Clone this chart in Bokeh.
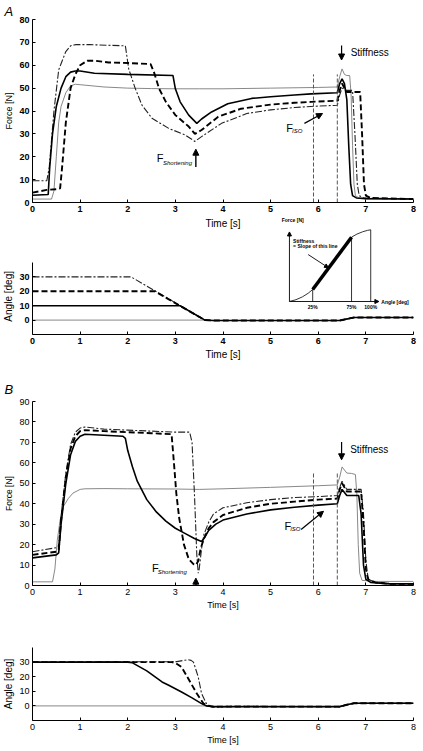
from bokeh.plotting import figure
from bokeh.layouts import column
from bokeh.models import Range1d, FixedTicker, Arrow, NormalHead, Label
from bokeh.embed import file_html
from bokeh.resources import INLINE

FONT = "Liberation Sans"

# ---------------- data: panel A, force ----------------
tA_iso = [0, 0.40, 0.45, 0.50, 0.55, 0.60, 0.70, 0.80, 0.90, 1.0, 1.5, 2.0, 2.5, 3.0, 3.5, 4.0, 5.0, 6.0, 6.40, 6.45, 6.50, 6.55, 6.60, 6.66, 6.69, 6.72, 6.75, 6.78, 6.85, 7.0, 8.0]
fA_iso = [1.5, 1.5, 5, 20, 35, 42, 48, 51, 51.7, 51.5, 50.5, 50, 49.8, 49.7, 49.7, 49.7, 50, 50.3, 50.5, 55, 58.4, 56, 55.5, 55.5, 47, 25, 8, 3, 2, 1.6, 1.5]

tA_10 = [0, 0.33, 0.36, 0.42, 0.5, 0.6, 0.7, 0.8, 0.9, 1.0, 1.3, 2.0, 2.95, 3.0, 3.1, 3.28, 3.45, 3.55, 3.76, 4.1, 4.6, 5.0, 5.5, 5.85, 6.4, 6.45, 6.5, 6.55, 6.6, 6.64, 6.68, 6.72, 6.8, 7.0, 8.0]
fA_10 = [3.2, 3.5, 15, 30, 42, 50, 55, 57, 57.5, 57.5, 56.5, 56, 55.5, 49.7, 44, 38.2, 34.6, 36.5, 39.6, 43.2, 45.5, 46.2, 47, 47.5, 48, 52, 54, 52, 45, 25, 8, 3, 2, 1.7, 1.5]

tA_20 = [0, 0.3, 0.5, 0.58, 0.62, 0.7, 0.8, 0.9, 1.0, 1.15, 1.3, 1.6, 2.0, 2.48, 2.55, 2.66, 2.8, 3.0, 3.28, 3.41, 3.55, 3.9, 4.38, 5.0, 5.5, 5.85, 6.4, 6.45, 6.5, 6.55, 6.6, 6.88, 6.92, 6.96, 7.0, 7.1, 8.0]
fA_20 = [4.3, 5.5, 5.8, 6.2, 15, 35, 50, 56, 60, 62, 62, 61.2, 61, 60.5, 57, 49.7, 44, 38.2, 33.2, 30, 31.7, 37.5, 41, 42.8, 43.6, 44, 44.5, 49, 52, 50, 48.3, 48.3, 30, 8, 3, 2, 1.5]

tA_30 = [0, 0.3, 0.35, 0.45, 0.55, 0.7, 0.8, 0.9, 1.2, 1.95, 2.02, 2.16, 2.30, 2.51, 2.86, 3.2, 3.41, 3.55, 3.97, 4.5, 5.0, 5.5, 5.85, 6.4, 6.45, 6.5, 6.55, 6.6, 6.72, 6.77, 6.82, 6.86, 6.95, 8.0]
fA_30 = [9.5, 9.5, 15, 40, 58, 66, 68.5, 69, 69, 68.5, 58.4, 49.7, 42.5, 36.8, 32.4, 29.6, 26.7, 28.8, 34.6, 38.9, 40.5, 41.5, 42, 42.5, 47, 50, 49.5, 49, 49, 30, 8, 3, 2, 1.5]

# ---------------- data: panel A, angle ----------------
tA_a0 = [0, 3.6, 3.8, 6.45, 6.6, 6.75, 8]
aA_a0 = [0, 0, -0.3, -0.3, 0.8, 1.8, 1.8]
tA_a10 = [0, 3.1, 3.62, 3.8, 6.45, 6.6, 6.75, 8]
aA_a10 = [10, 10, 0, -0.3, -0.3, 0.8, 1.8, 1.8]
tA_a20 = [0, 2.57, 3.62, 3.8, 6.45, 6.6, 6.75, 8]
aA_a20 = [20, 20, 0, -0.3, -0.3, 0.8, 1.8, 1.8]
tA_a30 = [0, 2.07, 3.62, 3.8, 6.45, 6.6, 6.75, 8]
aA_a30 = [30, 30, 0, -0.3, -0.3, 0.8, 1.8, 1.8]

# ---------------- data: panel B, force ----------------
tB_iso = [0, 0.42, 0.47, 0.52, 0.58, 0.65, 0.75, 0.85, 1.0, 1.1, 1.5, 2.0, 3.0, 3.5, 4.0, 5.0, 6.0, 6.4, 6.45, 6.5, 6.55, 6.6, 6.7, 6.78, 6.81, 6.84, 6.87, 6.92, 7.2, 8.0]
fB_iso = [1.8, 1.8, 8, 22, 32, 38.7, 42.5, 45.2, 47, 47.3, 47.4, 47.3, 47.2, 47, 47.3, 48, 48.8, 49.2, 53, 58, 56.5, 55, 54.8, 54.3, 45, 20, 6, 2.5, 2, 2]

tB_10 = [0, 0.5, 0.55, 0.6, 0.7, 0.8, 0.9, 1.0, 1.1, 1.5, 1.9, 1.95, 2.0, 2.1, 2.2, 2.4, 2.6, 2.8, 3.0, 3.2, 3.4, 3.5, 3.55, 3.6, 3.7, 3.85, 4.0, 4.5, 5.0, 5.5, 6.0, 6.4, 6.45, 6.5, 6.55, 6.6, 6.85, 6.9, 6.95, 7.0, 7.1, 7.5, 8.0]
fB_10 = [13.5, 15, 16, 30, 50, 64, 70.5, 73, 74, 73.5, 73, 72, 66, 58, 51, 42, 36, 31.5, 28, 25.5, 23, 22, 21.5, 23, 27, 30, 32, 35, 37, 38.3, 39.3, 40, 44, 47, 45.5, 44, 44, 35, 10, 3, 1.5, 0.8, 0.8]

tB_20 = [0, 0.5, 0.55, 0.6, 0.7, 0.8, 0.9, 1.0, 1.1, 1.5, 2.0, 2.5, 2.92, 2.97, 3.02, 3.08, 3.18, 3.28, 3.38, 3.43, 3.48, 3.53, 3.6, 3.7, 3.8, 4.0, 4.5, 5.0, 5.5, 6.0, 6.4, 6.45, 6.5, 6.55, 6.6, 6.9, 6.95, 7.0, 7.05, 7.2, 7.5, 8.0]
fB_20 = [15, 16.5, 17.5, 32, 53, 67, 73, 75.5, 76, 75.5, 75, 74.5, 74, 60, 45, 33, 20, 13, 10.5, 10, 12, 18, 23, 28, 31, 34.5, 38, 40, 41, 42, 42.5, 47, 50, 48, 46, 46, 30, 8, 3, 1.5, 0.8, 0.8]

tB_30 = [0, 0.5, 0.55, 0.6, 0.7, 0.8, 0.9, 1.0, 1.1, 1.5, 2.0, 2.5, 3.0, 3.3, 3.35, 3.4, 3.45, 3.48, 3.5, 3.55, 3.6, 3.7, 3.8, 4.0, 4.5, 5.0, 5.5, 6.0, 6.4, 6.45, 6.5, 6.55, 6.6, 6.9, 6.95, 7.0, 7.05, 7.2, 7.5, 8.0]
fB_30 = [16.5, 18.5, 19.5, 34, 55, 69, 75, 77, 77.5, 76.5, 76, 75.5, 75, 75, 70, 45, 15, 6, 8, 18, 25, 31, 35, 38, 40.5, 42, 43, 43.5, 44, 48, 51, 49, 47, 47, 35, 12, 3, 1.5, 1, 1]

# ---------------- data: panel B, angle ----------------
tB_a0 = [0, 3.6, 3.8, 6.45, 6.6, 6.75, 8]
aB_a0 = [0, 0, -0.5, -0.5, 0.8, 1.8, 1.8]
tB_a10 = [0, 2.0, 2.1, 2.4, 2.72, 2.86, 3.13, 3.35, 3.55, 3.65, 3.8, 6.45, 6.6, 6.75, 8]
aB_a10 = [30, 30, 29.5, 24, 16.4, 14.1, 9.5, 5.5, 1.6, 0, -0.5, -0.5, 0.8, 1.8, 1.8]
tB_a20 = [0, 2.92, 3.0, 3.13, 3.27, 3.45, 3.59, 3.69, 3.8, 6.45, 6.6, 6.75, 8]
aB_a20 = [30, 30, 29.5, 26.6, 18.7, 8.5, 1.6, 0, -0.5, -0.5, 0.8, 1.8, 1.8]
tB_a30 = [0, 3.03, 3.2, 3.27, 3.33, 3.38, 3.48, 3.55, 3.65, 3.76, 3.97, 4.1, 6.45, 6.6, 6.75, 8]
aB_a30 = [30, 30.3, 31.3, 31.6, 31.2, 30, 19.8, 8.5, 1.6, -0.7, -0.7, -0.3, -0.5, 0.8, 1.8, 1.8]

# ---------------- inset (stiffness definition) ----------------
inset_u = [0, 0.08, 0.16, 0.23, 0.286, 0.764, 0.83, 0.9, 0.96, 1.0]
inset_v = [0, 0.025, 0.065, 0.115, 0.167, 0.897, 0.94, 0.972, 0.992, 1.0]
inset_marks_u = [0.286, 0.764, 1.0]
inset_marks_v = [0.167, 0.897, 1.0]
inset_marks_lbl = ["25%", "75%", "100%"]

window_t = [5.9, 6.4]
x_ticks = [0, 1, 2, 3, 4, 5, 6, 7, 8]

SOLID = dict(color="black", line_width=1.6)
DASH = dict(color="black", line_width=1.9, line_dash="6 3")
DDOT = dict(color="#222222", line_width=1.1, line_dash="7 2 2 2")
THIN = dict(color="#7a7a7a", line_width=0.9)
NBSP = "\u00a0"


def make_fig(height, y0, y1, mt, mb, yticks, ybounds, bold, fs, ylabel, xlabel, ylfs, title=None):
    p = figure(width=423, height=height, x_range=Range1d(0, 8), y_range=Range1d(y0, y1),
               output_backend="svg", toolbar_location=None,
               min_border_left=30, min_border_right=10, min_border_top=mt, min_border_bottom=mb,
               title=title)
    p.outline_line_color = None
    p.grid.visible = False
    p.background_fill_color = "white"
    for ax in (p.xaxis[0], p.yaxis[0]):
        ax.major_tick_in = 3
        ax.major_tick_out = 0
        ax.minor_tick_line_color = None
        ax.axis_line_color = "black"
        ax.major_tick_line_color = "black"
        ax.major_label_text_font = FONT
        ax.major_label_text_font_size = fs
        ax.major_label_text_font_style = "bold" if bold else "normal"
        ax.major_label_text_color = "black"
        ax.axis_label_text_font = FONT
        ax.axis_label_text_font_style = "normal"
        ax.axis_label_text_color = "black"
        ax.major_label_standoff = 3
        ax.axis_label_standoff = 2
    p.xaxis[0].ticker = FixedTicker(ticks=x_ticks)
    p.yaxis[0].ticker = FixedTicker(ticks=yticks)
    p.yaxis[0].bounds = ybounds
    p.yaxis[0].axis_label = ylabel
    p.xaxis[0].axis_label = xlabel
    p.yaxis[0].axis_label_text_font_size = ylfs
    p.xaxis[0].axis_label_text_font_size = fs
    if title:
        p.title.text_font = FONT
        p.title.text_font_style = "italic"
        p.title.text_font_size = "13px"
        p.title.text_color = "black"
        p.title.offset = -28
        p.title.standoff = 2
    return p


def lbl(p, x, y, text, size, style="normal", align="left", base="middle", **kw):
    p.add_layout(Label(x=x, y=y, text=text, text_font=FONT, text_font_size=size,
                       text_font_style=style, text_align=align, text_baseline=base,
                       text_color="black", **kw))


def arrow(p, x0, y0, x1, y1, lw=1.2, size=6, **kw):
    p.add_layout(Arrow(end=NormalHead(size=size, fill_color="black", line_color="black", line_width=1),
                       x_start=x0, y_start=y0, x_end=x1, y_end=y1, line_width=lw, line_color="black", **kw))


def subF(p, x, y, sub, subx, suby):
    lbl(p, x, y, "F", "11px")
    lbl(p, subx, suby, sub, "6px", style="italic")


# ---------------- Figure A force ----------------
pA = make_fig(216, 0, 80, 17, 14, list(range(0, 81, 10)), (0, 80), True, "9px", "Force [N]", "", "9px", title="A")
pA.line(tA_iso, fA_iso, **THIN)
pA.line(tA_30, fA_30, **DDOT)
pA.line(tA_20, fA_20, **DASH)
pA.line(tA_10, fA_10, **SOLID)
for t in window_t:
    pA.segment(x0=[t], y0=[0], x1=[t], y1=[56], color="#555555", line_width=1, line_dash="4 2")
arrow(pA, 6.49, 68.6, 6.49, 62.3)
lbl(pA, 6.68, 65.6, "Stiffness", "10px")
arrow(pA, 3.43, 15.5, 3.43, 23.3, lw=1.4)
subF(pA, 2.61, 19.5, "Shortening", 2.74, 17.4)
arrow(pA, 5.71, 34.6, 6.09, 38.9)
subF(pA, 5.33, 32.7, "ISO", 5.45, 31.3)

# ---------------- Figure A angle + inset ----------------
pxdeg = 1.44
a_top = -10 + 118 / pxdeg
# the frame also holds the inset above the angle axis; trailing no-break spaces push the
# axis title down so that it sits beside the -10..40 part of the axis
pa = make_fig(146, -10, a_top, 0, 28, [0, 10, 20, 30], (-10, 40), True, "9px",
              "Angle [deg]" + NBSP * 15, "Time [s]", "10px")
pa.xaxis[0].axis_label_text_font_size = "10px"
pa.line(tA_a0, aA_a0, **THIN)
pa.line(tA_a30, aA_a30, **DDOT)
pa.line(tA_a20, aA_a20, **DASH)
pa.line(tA_a10, aA_a10, **SOLID)
# time label of the force plot above
lbl(pa, 4, a_top - 7 / pxdeg, "Time [s]", "10px", align="center")

# inset ranges: u=0 -> page x 288.3, 81.7 px per unit ; v=0 -> 85 px below frame top, 71.7 px per unit
ux0, upx = 288.3, 81.7
vy0, vpx = 85.0, 71.7
pa.extra_x_ranges = {"ix": Range1d((30 - ux0) / upx, (413 - ux0) / upx)}
pa.extra_y_ranges = {"iy": Range1d(-(118 - vy0) / vpx, vy0 / vpx)}
IR = dict(x_range_name="ix", y_range_name="iy")
pa.line(inset_u, inset_v, color="black", line_width=0.8, **IR)
pa.line(inset_marks_u[:2], inset_marks_v[:2], color="black", line_width=3.5, **IR)
for u, v, s in zip(inset_marks_u, inset_marks_v, inset_marks_lbl):
    pa.segment(x0=[u], y0=[0], x1=[u], y1=[v], color="black", line_width=0.8, **IR)
    lbl(pa, u, -0.075, s, "5px", style="bold", align="center", **IR)
arrow(pa, 0, 0, 0, 0.97, lw=0.9, size=4, **IR)
arrow(pa, 0, 0, 1.1, 0, lw=0.9, size=4, **IR)
lbl(pa, 0.04, 1.13, "Force [N]", "5px", style="bold", align="center", **IR)
lbl(pa, 1.13, 0, "Angle [deg]", "5px", style="bold", **IR)
lbl(pa, 0.045, 0.84, "Stiffness", "5px", style="bold", **IR)
lbl(pa, 0.045, 0.77, "= Slope of this line", "5px", style="bold", **IR)
arrow(pa, 0.23, 0.655, 0.48, 0.47, lw=0.9, size=4, **IR)

# ---------------- Figure B force ----------------
pB = make_fig(250, 0, 90, 39, 25, list(range(0, 91, 10)), (0, 90), False, "9px", "Force [N]", "Time [s]", "8.5px", title="B")
pB.title.standoff = 9
pB.line(tB_iso, fB_iso, **THIN)
pB.line(tB_30, fB_30, **DDOT)
pB.line(tB_20, fB_20, **DASH)
pB.line(tB_10, fB_10, **SOLID)
for t in window_t:
    pB.segment(x0=[t], y0=[0], x1=[t], y1=[55], color="#555555", line_width=1, line_dash="4 2")
arrow(pB, 6.49, 70.2, 6.49, 61.5)
lbl(pB, 6.67, 66.6, "Stiffness", "10px")
arrow(pB, 3.43, 0, 3.43, 3.6, lw=2)
subF(pB, 2.51, 8.6, "Shortening", 2.63, 6.8)
arrow(pB, 5.64, 27.4, 6.11, 36.3)
subF(pB, 5.29, 29.0, "ISO", 5.41, 27.6)

# ---------------- Figure B angle ----------------
pb = make_fig(139, -10, 40, 35, 31, [0, 10, 20, 30], (-10, 40), False, "9px", "Angle [deg]", "Time [s]", "10px")
pb.line(tB_a0, aB_a0, **THIN)
pb.line(tB_a30, aB_a30, **DDOT)
pb.line(tB_a20, aB_a20, **DASH)
pb.line(tB_a10, aB_a10, **SOLID)

layout = column(pA, pa, pB, pb, spacing=0)
open("out.html", "w").write(file_html(layout, INLINE))
